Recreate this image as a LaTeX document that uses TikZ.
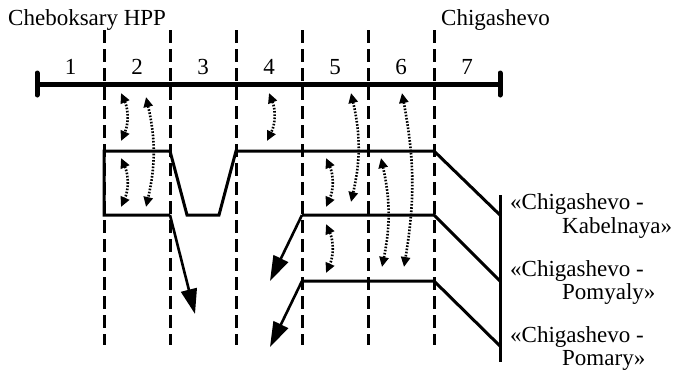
\documentclass[tikz,border=0pt]{standalone}
\usepackage{fontspec}
\setmainfont{Liberation Serif}
\usetikzlibrary{arrows.meta}

\tikzset{
  bus/.style={line width=5bp, line cap=butt},
  busend/.style={line width=5bp, line cap=round},
  border/.style={line width=3bp, dash pattern=on 13bp off 6bp},
  feeder/.style={line width=3bp, line join=miter},
  outflow/.style={line width=2.6bp, -{Triangle[length=25bp,width=16bp]}},
  swap/.style={line width=2.6bp, dash pattern=on 1.6bp off 1.6bp,
    {Triangle[length=10bp,width=9bp]}-{Triangle[length=10bp,width=9bp]}},
  place/.style={inner sep=0pt, anchor=base west},
  secnum/.style={inner sep=0pt, anchor=base},
}

\begin{document}
\begin{tikzpicture}[x=1bp, y=-1bp, font=\fontsize{23bp}{24bp}\selectfont]
\useasboundingbox (0,0) rectangle (673,370);

% bus line with its end bars
\coordinate (bL) at (37,84);
\coordinate (bR) at (500,84);
\draw[bus] (bL) -- (bR);
\draw[busend] (37,73) -- (37,95);
\draw[busend] (500,73) -- (500,95);

% section borders
\foreach \i/\x in {1/104,2/170,3/236,4/302,5/368,6/434}{
  \coordinate (t\i) at (\x,30);
  \coordinate (u\i) at (\x,345);
  \draw[border] (t\i) -- (u\i);
}

% section numbers
\foreach \n/\x in {1/70.5,2/137,3/203,4/269,5/335,6/401,7/467}
  \node[secnum] (n\n) at (\x,74) {\n};

% station names
\node[place] (heb) at (8,25) {Cheboksary HPP};
\node[place] (chg) at (441,25) {Chigashevo};

% feeder corner points
\coordinate (a1) at (104,151);
\coordinate (a2) at (170,151);
\coordinate (a3) at (187,215);
\coordinate (a4) at (219,215);
\coordinate (a5) at (236,151);
\coordinate (a6) at (434,151);
\coordinate (a7) at (500,215);
\coordinate (a8) at (104,215);
\coordinate (a9) at (170,215);
\coordinate (m1) at (302,215);
\coordinate (m2) at (434,215);
\coordinate (m3) at (500,281);
\coordinate (l1) at (302,281);
\coordinate (l2) at (434,281);
\coordinate (l3) at (500,346);
\coordinate (rT) at (500,195);
\coordinate (rB) at (500,362);

% feeders
\draw[feeder] (a9) -- (a8) -- (a1) -- (a2) -- (a3) -- (a4) -- (a5) -- (a6) -- (a7);
\draw[feeder] (m1) -- (m2) -- (m3);
\draw[feeder] (l1) -- (l2) -- (l3);
\draw[feeder] (rT) -- (rB);

% outgoing flows
\coordinate (o1) at (195,314);
\coordinate (o2) at (270,281);
\coordinate (o3) at (270,347);
\draw[outflow] (a9) -- (o1);
\draw[outflow] (m1) -- (o2);
\draw[outflow] (l1) -- (o3);

% exchange arrows
\coordinate (s1a) at (121,93);  \coordinate (s1b) at (121,141);
\coordinate (s2a) at (146,97);  \coordinate (s2b) at (146,207);
\coordinate (s3a) at (121,158); \coordinate (s3b) at (121,207);
\coordinate (s4a) at (269,93);  \coordinate (s4b) at (267,141);
\coordinate (s5a) at (351,93);  \coordinate (s5b) at (351,202);
\coordinate (s6a) at (402,93);  \coordinate (s6b) at (404,267);
\coordinate (s7a) at (326,158); \coordinate (s7b) at (326,207);
\coordinate (s8a) at (326,224); \coordinate (s8b) at (326,273);
\coordinate (s9a) at (381,158); \coordinate (s9b) at (382,267);
\draw[swap] (s1a) to[bend left=24] (s1b);
\draw[swap] (s2a) to[bend left=13] (s2b);
\draw[swap] (s3a) to[bend left=24] (s3b);
\draw[swap] (s4a) to[bend left=24] (s4b);
\draw[swap] (s5a) to[bend left=13] (s5b);
\draw[swap] (s6a) to[bend left=10] (s6b);
\draw[swap] (s7a) to[bend left=24] (s7b);
\draw[swap] (s8a) to[bend left=24] (s8b);
\draw[swap] (s9a) to[bend left=12] (s9b);

% line names
\node[place] (k1) at (510,209) {«Chigashevo -};
\node[place] (k2) at (562,233) {Kabelnaya»};
\node[place] (p1) at (510,276) {«Chigashevo -};
\node[place] (p2) at (562,299) {Pomyaly»};
\node[place] (r1) at (510,342) {«Chigashevo -};
\node[place] (r2) at (562,365) {Pomary»};
\end{tikzpicture}
\end{document}
